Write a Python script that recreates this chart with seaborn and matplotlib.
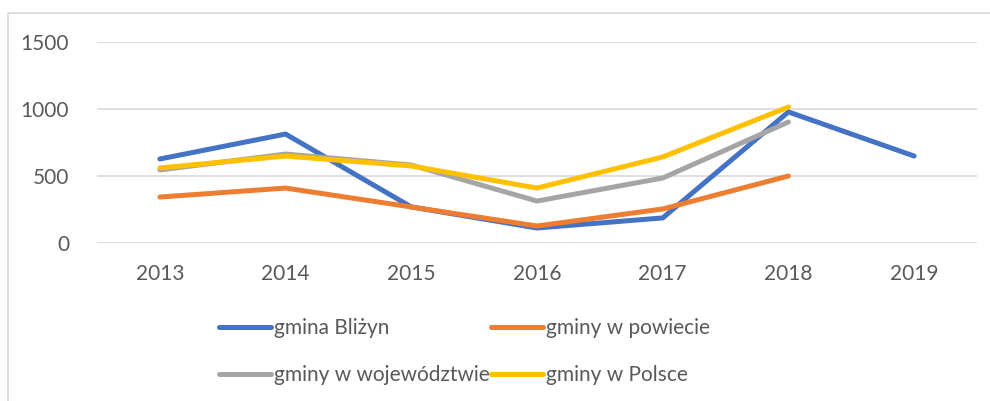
import numpy as np
import pandas as pd
import matplotlib
matplotlib.use("Agg")
import matplotlib.pyplot as plt
import seaborn as sns
from matplotlib.patches import Rectangle

years = [2013, 2014, 2015, 2016, 2017, 2018, 2019]
blizyn = [627, 813, 269, 112, 187, 978, 649]
powiat = [343, 410, 269, 127, 254, 500, np.nan]
wojew = [545, 664, 582, 313, 485, 903, np.nan]
polska = [560, 649, 575, 410, 642, 1015, np.nan]

names = ["gmina Bliżyn", "gminy w powiecie", "gminy w województwie", "gminy w Polsce"]
colors = ["#4472C4", "#ED7D31", "#A5A5A5", "#FFC000"]

df = pd.DataFrame({"rok": years, names[0]: blizyn, names[1]: powiat,
                   names[2]: wojew, names[3]: polska})
long_df = df.melt(id_vars="rok", var_name="seria", value_name="wartosc").dropna()

sns.set_style("white")
plt.rcParams['font.family'] = ['Lato', 'DejaVu Sans']

fig = plt.figure(figsize=(9.9, 4.01), dpi=100)
ax = fig.add_axes([97/990, 1 - 243/401, 880/990, 201/401])

# chart frame
fig.patches.append(Rectangle((8/990, -0.2), 1.2, 1.2 - 13/401,
                             transform=fig.transFigure, fill=False,
                             edgecolor="#d9d9d9", linewidth=1.2))

sns.lineplot(data=long_df, x="rok", y="wartosc", hue="seria", hue_order=names,
             palette=colors, linewidth=3.6, ax=ax, legend=False,
             solid_capstyle="round", sort=False)

ax.set_xlim(2012.5, 2019.5)
ax.set_ylim(0, 1500)
ax.set_yticks([0, 500, 1000, 1500])
ax.set_xticks(years)
ax.yaxis.grid(True, color="#d9d9d9", linewidth=1.2)
ax.set_axisbelow(True)
for s in ax.spines.values():
    s.set_visible(False)
ax.set_xlabel("")
ax.set_ylabel("")
ax.tick_params(axis="both", length=0, labelsize=15, labelcolor="#595959")
ax.tick_params(axis="y", pad=20)
ax.tick_params(axis="x", pad=15)

handles = [plt.Line2D([], [], color=c, linewidth=3.6, solid_capstyle="round") for c in colors]
order = [0, 2, 1, 3]
fig.legend([handles[i] for i in order], [names[i] for i in order],
           ncol=2, loc="upper left", bbox_to_anchor=(211/990, 1 - 310/401),
           frameon=False, fontsize=15, labelcolor="#595959",
           handlelength=2.5, handletextpad=0.1, columnspacing=0.1,
           labelspacing=1.3, borderaxespad=0)

fig.savefig("out.png", dpi=100)
